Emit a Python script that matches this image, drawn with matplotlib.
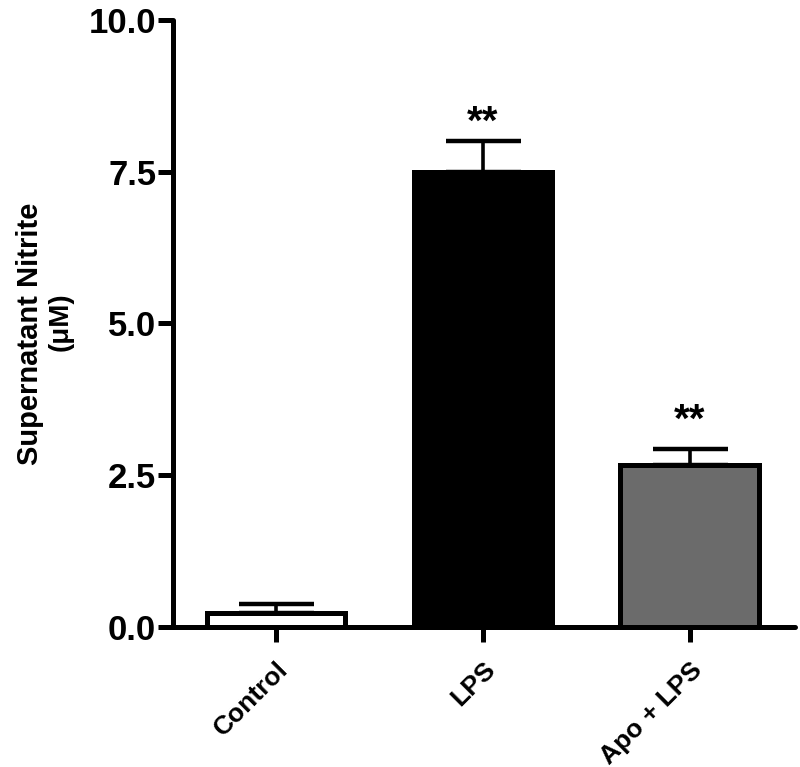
import matplotlib
matplotlib.use("Agg")
from matplotlib import pyplot as plt

groups = ["Control", "LPS", "Apo + LPS"]
means = [0.23, 7.5, 2.67]
sems = [0.15, 0.5, 0.27]
colors = ["white", "black", "#6b6b6b"]
stars = ["", "**", "**"]

plt.rcParams["font.family"] = ["Liberation Sans", "DejaVu Sans"]
plt.rcParams["font.weight"] = "bold"

fig = plt.figure(figsize=(8, 7.67), dpi=100)
ax = fig.add_axes([0.216, 0.1825, 0.778, 0.7915])

lw = 3.6
x = list(range(len(groups)))
ax.errorbar(x, means, yerr=[[0] * 3, sems], fmt="none", ecolor="black",
            elinewidth=2.6, capsize=27, capthick=3.2, zorder=1)
ax.bar(x, means, width=0.67, color=colors, edgecolor="black",
       linewidth=lw, zorder=2)

# star gap above the error cap, as placed by hand in the original
gaps = [0, 0.0, 0.15]
for xi, m, s, st, g in zip(x, means, sems, stars, gaps):
    if st:
        ax.text(xi, m + s + g, st, ha="center", va="bottom",
                fontsize=29, fontweight="bold")

ax.set_xlim(-0.5, 2.51)
ax.set_ylim(0, 10)
ax.set_yticks([0, 2.5, 5, 7.5, 10])
ax.set_yticklabels(["0.0", "2.5", "5.0", "7.5", "10.0"])
ax.set_xticks(x)
ax.set_xticklabels(groups, rotation=45, ha="right", rotation_mode="anchor",
                   fontsize=19, fontweight="bold")

for side in ["top", "right"]:
    ax.spines[side].set_visible(False)
for side in ["left", "bottom"]:
    ax.spines[side].set_linewidth(lw)
    ax.spines[side].set_capstyle("round")
ax.spines["left"].set_bounds(0, 10)

ax.tick_params(axis="y", length=11, width=lw, labelsize=25, pad=1)
ax.tick_params(axis="x", length=11, width=lw, pad=11)
for lab in ax.get_xticklabels():
    lab.set_x(lab.get_position()[0])
for lab in ax.get_yticklabels():
    lab.set_fontweight("bold")

fig.text(0.038, 0.565, "Supernatant Nitrite", rotation=90, ha="center",
         va="center", fontsize=21, fontweight="bold")
fig.text(0.076, 0.58, "(\u03bcM)", rotation=90, ha="center", va="center",
         fontsize=20, fontweight="bold")

fig.savefig("out.png", dpi=100)
